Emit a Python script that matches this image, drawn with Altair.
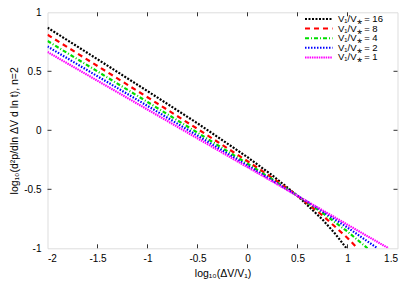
import altair as alt
import pandas as pd

# ---- data ----
labels = ["V₁/V⁎ = 16", "V₁/V⁎ = 8", "V₁/V⁎ = 4", "V₁/V⁎ = 2", "V₁/V⁎ = 1"]
colors = ["#000000", "#ff0000", "#00dd00", "#0000ff", "#ff00ff"]
dashes = [[2, 1.5], [5, 4], [4, 2, 1, 2], [1.5, 1.5], [1.5, 0.8]]

x16 = [-2, -1.5, -1, -0.5, 0, 0.25, 0.5, 0.75, 0.875, 0.99]
y16 = [0.870, 0.602, 0.332, 0.059, -0.228, -0.383, -0.555, -0.756, -0.875, -1.0]
x8 = [-2, -1.5, -1, -0.5, 0, 0.25, 0.5, 0.75, 1.0, 1.1]
y8 = [0.810, 0.545, 0.280, 0.012, -0.262, -0.404, -0.555, -0.721, -0.912, -1.0]
x4 = [-2, -1.5, -1, -0.5, 0, 0.25, 0.5, 0.75, 1.0, 1.2]
y4 = [0.757, 0.499, 0.240, -0.020, -0.283, -0.417, -0.555, -0.700, -0.858, -1.0]
x2 = [-2, -1.5, -1, -0.5, 0, 0.25, 0.5, 0.75, 1.0, 1.3]
y2 = [0.710, 0.458, 0.207, -0.045, -0.299, -0.426, -0.555, -0.687, -0.824, -1.0]
x1 = [-2, -1, 0, 0.5, 1.0, 1.41]
y1 = [0.664, 0.176, -0.312, -0.556, -0.800, -1.0]

x_ticks = [-2, -1.5, -1, -0.5, 0, 0.5, 1, 1.5]
y_ticks = [-1, -0.5, 0, 0.5, 1]

# ---- build table ----
rows = []
for lab, xs, ys in zip(labels, [x16, x8, x4, x2, x1], [y16, y8, y4, y2, y1]):
    for xv, yv in zip(xs, ys):
        rows.append({"series": lab, "x": xv, "y": yv})
df = pd.DataFrame(rows)

W, H = 350, 236
FONT = "Liberation Sans"
FRAME = "#333333"
TL = 4

xscale = alt.Scale(domain=[-2, 1.5], nice=False, zero=False)
yscale = alt.Scale(domain=[-1, 1], nice=False, zero=False)

lines = alt.Chart(df).mark_line(strokeWidth=2.2, clip=True).encode(
    x=alt.X("x:Q", scale=xscale,
            axis=alt.Axis(values=x_ticks, title="log₁₀(ΔV/V₁)", domain=False, ticks=False,
                          tickSize=0, grid=False, labelPadding=5,
                          labelExpr="toString(datum.value)",
                          titleFontWeight="normal", titleFont=FONT, titleFontSize=10.5,
                          titleX=W / 2, titleY=25, titleBaseline="middle")),
    y=alt.Y("y:Q", scale=yscale,
            axis=alt.Axis(values=y_ticks, title="log₁₀(d²p/dln ΔV d ln t), n=2", domain=False,
                          ticks=False, tickSize=0, grid=False, labelPadding=6.5,
                          labelExpr="toString(datum.value)",
                          titleFontWeight="normal", titleFont=FONT, titleFontSize=10.5,
                          titleX=-33, titleY=H / 2, titleAngle=-90,
                          titleAlign="center", titleBaseline="middle")),
    color=alt.Color("series:N", scale=alt.Scale(domain=labels, range=colors), legend=None),
    strokeDash=alt.StrokeDash("series:N", scale=alt.Scale(domain=labels, range=dashes), legend=None),
    order=alt.Order("x:Q"),
)

xt = pd.DataFrame({"x": x_ticks[1:-1]})
yt = pd.DataFrame({"y": y_ticks[1:-1]})
tb = alt.Chart(xt).mark_rule(color=FRAME, strokeWidth=1).encode(
    x=alt.X("x:Q", scale=xscale), y=alt.value(H), y2=alt.value(H - TL))
tt = alt.Chart(xt).mark_rule(color=FRAME, strokeWidth=1).encode(
    x=alt.X("x:Q", scale=xscale), y=alt.value(0), y2=alt.value(TL))
tl = alt.Chart(yt).mark_rule(color=FRAME, strokeWidth=1).encode(
    y=alt.Y("y:Q", scale=yscale), x=alt.value(0), x2=alt.value(TL))
tr = alt.Chart(yt).mark_rule(color=FRAME, strokeWidth=1).encode(
    y=alt.Y("y:Q", scale=yscale), x=alt.value(W), x2=alt.value(W - TL))

# manual legend
leg_layers = []
legdf = pd.DataFrame({"series": labels})
for i, (lab, col, dsh) in enumerate(zip(labels, colors, dashes)):
    ry = 6.7 + i * 9.6
    sub = alt.Chart(legdf).transform_filter(alt.datum.series == lab)
    leg_layers.append(sub.mark_rule(color=col, strokeDash=dsh, strokeWidth=2).encode(
        x=alt.value(257.5), x2=alt.value(285), y=alt.value(ry)))
    leg_layers.append(sub.mark_text(align="left", baseline="middle", font=FONT, fontSize=9.5,
                                    color="black").encode(
        x=alt.value(290.5), y=alt.value(ry), text="series:N"))

chart = alt.layer(lines, tb, tt, tl, tr, *leg_layers).properties(
    width=W, height=H,
    padding={"left": 39.5, "top": 4.3, "right": 8, "bottom": 34.7},
    autosize=alt.AutoSizeParams(type="none"),
).configure_view(stroke=FRAME, strokeWidth=1).configure_axis(
    labelFont=FONT, titleFont=FONT, labelFontSize=11, titleFontSize=10.5,
    labelColor="black", titleColor="black", titleFontWeight="normal",
).configure(background="white")

chart.save("out.html", embed_options={"renderer": "svg", "actions": False})
